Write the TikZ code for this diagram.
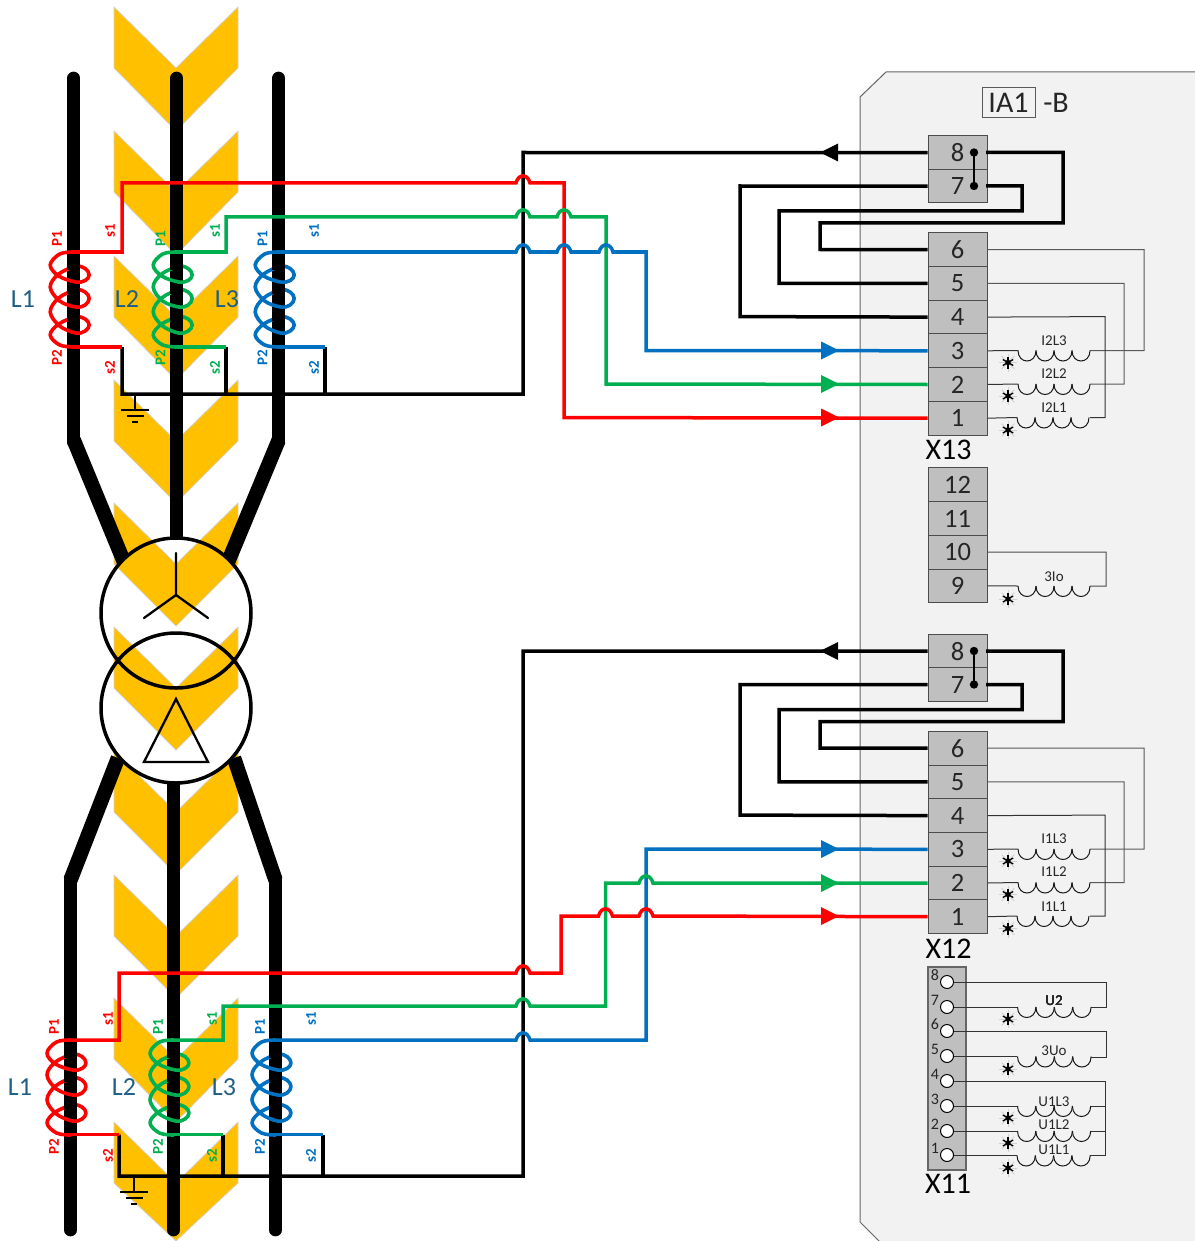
\documentclass[tikz,border=0pt]{standalone}
\usepackage{fontspec}
\setmainfont{Carlito}
\definecolor{cred}{HTML}{FF0000}
\definecolor{cgreen}{HTML}{00B050}
\definecolor{cblue}{HTML}{0070C0}
\definecolor{cyel}{HTML}{FFC000}
\definecolor{cpanel}{HTML}{F2F2F2}
\definecolor{cterm}{HTML}{BFBFBF}
\definecolor{cphase}{HTML}{1F5F85}
\newcommand\fs[1]{\fontsize{#1}{#1}\selectfont}
\tikzset{
  chev/.style={fill=cyel,draw=black!18,line width=.7pt},
  cond/.style={line width=12.7pt,line cap=round,line join=round,black},
  diag/.style={line width=14.5pt,line cap=butt,black},
  wind/.style={line width=3.6pt,line join=round,line cap=round},
  wire/.style={line width=3.5pt,line join=miter,line cap=butt},
  thinw/.style={line width=1pt,black!80},
  term/.style={draw=black!70,fill=cterm,line width=1pt,minimum width=59pt,minimum height=33.7pt,inner sep=0pt,text=black!85,font=\fs{26.5}},
  blocklab/.style={inner sep=0pt,font=\fs{30},text=black},
  coillab/.style={inner sep=0pt,font=\fs{15},text=black!85},
  phase/.style={inner sep=0pt,font=\fs{26},text=cphase},
  ctlab/.style={inner sep=0pt,rotate=90,font=\fs{15}\bfseries},
  udot/.style={circle,draw=black,fill=white,line width=1pt,minimum size=13pt,inner sep=0pt},
  unum/.style={inner sep=0pt,font=\fs{16},text=black!85},
}
\newcommand\hop[2]{-- (#1-7,#2) .. controls (#1-4.5,#2-9.5) and (#1+4.5,#2-9.5) .. (#1+7,#2)}
\newcommand\ctcoil[3]{\begin{scope}[shift={(#1,#2)}]
  \draw[wind,#3] plot[smooth,tension=.6] coordinates {(0,0) (-14,2) (-23.5,13) (-15,24) (2,30) (11.5,28.5) (15.5,23) (11.5,16.5) (2,14.5) (-15,22) (-23.5,35) (-14,49) (2,55) (11.5,53) (15.5,46.5) (11.5,40) (2,38) (-15,46) (-23.5,60) (-14,74) (2,81) (11.5,79) (15.5,73) (11.5,67) (2,65) (-15,72) (-23.5,83) (-14,93) (0,95)};
  \fill[black] (-6.35,11) rectangle (6.35,18);
  \fill[black] (-6.35,34.5) rectangle (6.35,41.5);
  \fill[black] (-6.35,61.5) rectangle (6.35,68.5);
\end{scope}}
\newcommand\ctlabels[8]{%
  \node[ctlab,text=#2] (#1p1) at (#3,#5) {P1};
  \node[ctlab,text=#2] (#1s1) at (#4,#6) {s1};
  \node[ctlab,text=#2] (#1p2) at (#3,#7) {P2};
  \node[ctlab,text=#2] (#1s2) at (#4,#8) {s2};}
\newcommand\ctearth[2]{%
  \draw[line width=2pt,black] (#1,#2) -- (#1,#2+15);
  \draw[line width=2pt,black] (#1-14,#2+16) -- (#1+14,#2+16);
  \draw[line width=2pt,black] (#1-8.5,#2+22) -- (#1+8.5,#2+22);
  \draw[line width=2pt,black] (#1-3,#2+28) -- (#1+3,#2+28);}
\newcommand\starmark[2]{\begin{scope}[shift={(#1,#2)}]
  \foreach \a in {0,45,...,315} \draw[black!18,line width=1pt] (0,0) -- (\a:9);
  \foreach \a in {30,90,150} {\draw[black,line width=1.3pt] (\a:6) -- (\a+180:6);}
  \fill[black] (0,0) circle (2.7);
\end{scope}}
% coil on a horizontal line: start x, y, hump width (4 humps)
\newcommand\hcoil[3]{%
  \foreach \k in {0,1,2,3} {\draw[line width=1pt,black!90] (#1+\k*#3,#2) .. controls (#1+\k*#3,#2+14) and (#1+\k*#3+#3,#2+14) .. (#1+\k*#3+#3,#2);}}
% terminal block with 8 terminals; #1 prefix, #2 y shift, #3 block label, #4 current label
\newcommand\termblock[4]{\begin{scope}[shift={(0,#2)}]
  \node[term,minimum height=33.5pt] (#1t8) at (957.5,152.7) {8};
  \node[term,minimum height=33.5pt] (#1t7) at (957.5,186.2) {7};
  \node[term] (#1t6) at (957.5,249.7) {6};
  \node[term] (#1t5) at (957.5,283.4) {5};
  \node[term] (#1t4) at (957.5,317.1) {4};
  \node[term] (#1t3) at (957.5,350.8) {3};
  \node[term] (#1t2) at (957.5,384.5) {2};
  \node[term] (#1t1) at (957.5,418.2) {1};
  \node[blocklab] (#1lab) at (948.5,450) {#3};
  \fill[black] (974,152.5) circle (4.2) (974,186) circle (4.2);
  \draw[line width=2.6pt,black] (974,152.5) -- (974,186);
  % black current wires
  \draw[wire,black,line join=miter] (986,152.5) -- (1063,152.5) -- (1063,223) -- (820,223) -- (820,249.5) -- (#1t6.west);
  \draw[wire,black] (986,186) -- (1022,186) -- (1022,211) -- (779,211) -- (779,283.3) -- (#1t5.west);
  \draw[wire,black] (#1t7.west) -- (740,186) -- (740,316.6) -- (#1t4.west);
  % secondary wiring
  \draw[thinw,black!65] (#1t6.east) -- (1144,249.5) -- (1144,350.5) -- (1090,350.5);
  \draw[thinw,black!65] (#1t5.east) -- (1124,283.3) -- (1124,384) -- (1090,384);
  \draw[thinw,black!80] (#1t4.east) -- (1105,316.6) -- (1105,417.5) -- (1090,417.5);
  \draw[thinw] (#1t3.east) -- (1018,350.5);
  \draw[thinw] (#1t2.east) -- (1018,384);
  \draw[thinw] (#1t1.east) -- (1017,417.5);
  \hcoil{1018}{350.5}{18}
  \hcoil{1018}{384}{18}
  \hcoil{1017}{417.5}{18}
  \starmark{1008}{362.5}
  \starmark{1008}{396}
  \starmark{1008}{430}
  \node[coillab] (#1cl3) at (1054,340.5) {#4L3};
  \node[coillab] (#1cl2) at (1054,373.5) {#4L2};
  \node[coillab] (#1cl1) at (1054,408) {#4L1};
\end{scope}}
\begin{document}
\begin{tikzpicture}[x=1pt,y=-1pt]
\useasboundingbox (0,0) rectangle (1194,1241);
\fill[white] (0,0) rectangle (1194,1241);
% chevrons
\foreach \ty/\hh in {7/124,131/124,256/124,380/123,503/123,627/123,751/123,875/123,998/124,1122/119}
  \filldraw[chev] (114,\ty) -- (176,\ty+61) -- (238,\ty) -- (238,\ty+61) -- (176,\ty+\hh) -- (114,\ty+61) -- cycle;
% panel
\filldraw[fill=cpanel,draw=black!60,line width=1pt] (860,97) -- (886,72) -- (1200,72) -- (1200,1248) -- (886,1248) -- (860,1222) -- cycle;
% primary conductors
\begin{scope}[even odd rule]
  \clip (0,0) rectangle (1194,1241) (176,613) circle (75) (176,708) circle (75);
  \draw[diag] (73.7,440) -- (124,562);
  \draw[diag] (278.7,440) -- (228,562);
  \draw[diag] (118,758) -- (70.5,880);
  \draw[diag] (234,758) -- (275.5,880);
  \draw[cond] (73.7,78) -- (73.7,442);
  \draw[cond] (176.7,78) -- (176.7,550);
  \draw[cond] (278.7,78) -- (278.7,442);
  \draw[cond] (70.5,878) -- (70.5,1230);
  \draw[cond] (173.5,775) -- (173.5,1230);
  \draw[cond] (275.5,878) -- (275.5,1230);
\end{scope}
% transformer
\node[circle,draw=black,line width=3.5pt,minimum size=150pt,inner sep=0pt] (trhv) at (176,613) {};
\node[circle,draw=black,line width=3.5pt,minimum size=150pt,inner sep=0pt] (trlv) at (176,708) {};
\coordinate (starc) at (176,595);
\draw[line width=2.3pt,black,line cap=round] (starc) -- (176,553) (starc) -- (144,618) (starc) -- (208,618);
\draw[line width=2.3pt,black,line join=miter] (176,699) -- (144,762) -- (208,762) -- cycle;
% current transformer coils, top
\ctcoil{73.7}{252}{cred}
\ctcoil{176.7}{252}{cgreen}
\ctcoil{278.7}{252}{cblue}
% bottom
\ctcoil{70.5}{1040}{cred}
\ctcoil{173.5}{1040}{cgreen}
\ctcoil{275.5}{1040}{cblue}
% phase labels
\node[phase] (la1) at (23,299) {L1};
\node[phase] (la2) at (127,299) {L2};
\node[phase] (la3) at (227,299) {L3};
\node[phase] (lb1) at (20,1087) {L1};
\node[phase] (lb2) at (124,1087) {L2};
\node[phase] (lb3) at (224,1087) {L3};
\ctlabels{ar}{cred}{57}{110}{239}{231}{358}{368}
\ctlabels{ag}{cgreen}{160.5}{215}{239}{231}{358}{368}
\ctlabels{ab}{cblue}{262.5}{314}{239}{231}{358}{368}
\ctlabels{br}{cred}{54}{108}{1027}{1019}{1147}{1156}
\ctlabels{bg}{cgreen}{158}{212}{1027}{1019}{1147}{1156}
\ctlabels{bb}{cblue}{260}{311}{1027}{1019}{1147}{1156}
% panel contents
\node[draw=black!65,line width=1pt,fill=cpanel,minimum width=53pt,minimum height=30pt,inner sep=0pt,font=\fs{30},text=black!85] (ia1) at (1008.5,103) {IA1};
\node[inner sep=0pt,font=\fs{30},text=black!85] (ia1b) at (1056,103) {-B};
\termblock{x}{0}{X13}{I2}
\termblock{y}{498.5}{X12}{I1}
% X13 lower block
\node[term] (z12) at (957.5,484.8) {12};
\node[term] (z11) at (957.5,518.5) {11};
\node[term] (z10) at (957.5,552.2) {10};
\node[term] (z9) at (957.5,585.9) {9};
\draw[thinw,black!70] (z10.east) -- (1106,552) -- (1106,586) -- (1090,586);
\draw[thinw] (z9.east) -- (1018,586);
\hcoil{1018}{586}{18}
\starmark{1008}{599}
\node[coillab] (c3io) at (1054,577) {3Io};
% X11
\filldraw[fill=cterm,draw=black!60,line width=1.2pt] (928,967) rectangle (966,1170);
\foreach \n/\y in {8/982,7/1007,6/1031,5/1056,4/1081,3/1106,2/1131,1/1155} {
  \draw[thinw] (947,\y) -- (1017,\y);
  \node[udot] (u\n) at (947,\y) {};
  \node[unum] (un\n) at (935,\y-7) {\n};
}
\draw[thinw] (u8) -- (1106,982) -- (1106,1007) -- (1091,1007);
\draw[thinw] (u6) -- (1106,1031) -- (1106,1057) -- (1091,1057);
\draw[thinw] (u4) -- (1105,1081) -- (1105,1155) -- (1090,1155);
\draw[thinw] (1090,1106) -- (1105,1106);
\draw[thinw] (1090,1131) -- (1105,1131);
\hcoil{1017.5}{1007}{18.4}
\hcoil{1017.5}{1056.5}{18.4}
\hcoil{1017.5}{1106}{18.3}
\hcoil{1017.5}{1131}{18.3}
\hcoil{1017}{1155.5}{18.3}
\foreach \y in {1019,1069,1118,1143,1168} \starmark{1008}{\y}
\node[coillab] (cu2) at (1054,1001) {U2};
\node[coillab] (cu0) at (1054,1051) {3Uo};
\node[coillab] (cu3) at (1054,1102) {U1L3};
\node[coillab] (cu22) at (1054,1125) {U1L2};
\node[coillab] (cu1) at (1054,1150) {U1L1};
\node[blocklab] (x11) at (948,1184) {X11};
% earth/neutral buses
\coordinate (ba) at (122,394);
\coordinate (bb) at (119,1176);
\draw[wire,black] (122,347) -- (ba) -- (523,394) -- (523,152.5) -- (xt8.west);
\draw[wire,black] (226,347) -- (226,394);
\draw[wire,black] (325,347) -- (325,394);
\draw[wire,black] (119,1134.5) -- (bb) -- (523,1176) -- (523,651) -- (yt8.west);
\draw[wire,black] (223,1134.5) -- (223,1176);
\draw[wire,black] (323,1134.5) -- (323,1176);
\ctearth{135}{394}
\ctearth{134}{1176}
% top secondary wires
\draw[wire,cred] (73.7,252) -- (122,252) -- (122,183) \hop{523}{183} -- (564,183) -- (564,417.5) -- (xt1.west);
\draw[wire,cgreen] (176.7,252) -- (226,252) -- (226,217) \hop{523}{217} \hop{564}{217} -- (606,217) -- (606,384) -- (xt2.west);
\draw[wire,cblue] (278.7,252) \hop{523}{252} \hop{564}{252} \hop{606}{252} -- (646,252) -- (646,350.5) -- (xt3.west);
\draw[wire,cred] (73.7,347) -- (122,347);
\draw[wire,cgreen] (176.7,347) -- (226,347);
\draw[wire,cblue] (278.7,347) -- (325,347);
% bottom secondary wires
\draw[wire,cblue] (275.5,1040) \hop{523}{1040} -- (646,1040) -- (646,849) -- (yt3.west);
\draw[wire,cgreen] (173.5,1040) -- (223,1040) -- (223,1006) \hop{523}{1006} -- (605.5,1006) -- (605.5,883) \hop{646}{883} -- (yt2.west);
\draw[wire,cred] (70.5,1040) -- (119,1040) -- (119,973) \hop{523}{973} -- (561,973) -- (561,916) \hop{605.5}{916} \hop{646}{916} -- (yt1.west);
\draw[wire,cred] (70.5,1134.5) -- (119,1134.5);
\draw[wire,cgreen] (173.5,1134.5) -- (223,1134.5);
\draw[wire,cblue] (275.5,1134.5) -- (323,1134.5);
% arrowheads
\foreach \cc/\y in {cblue/350.5,cgreen/384,cred/417.5,cblue/849,cgreen/883,cred/916}
  \fill[\cc] (821,\y-9) -- (839,\y) -- (821,\y+9) -- cycle;
\foreach \y in {152.5,651}
  \fill[black] (838,\y-9) -- (820,\y) -- (838,\y+9) -- cycle;
\end{tikzpicture}
\end{document}
